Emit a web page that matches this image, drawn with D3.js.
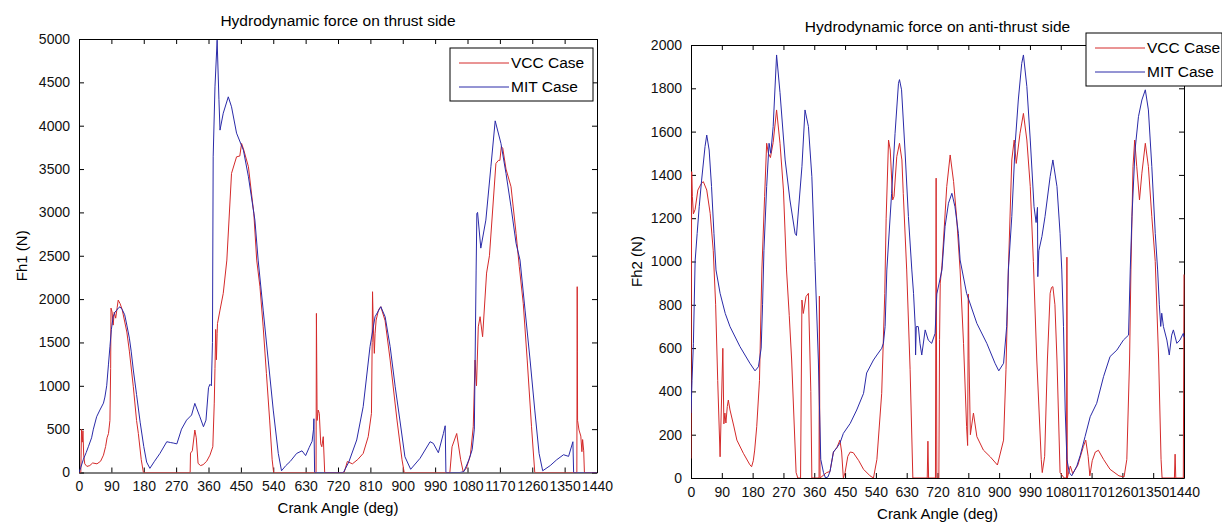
<!DOCTYPE html>
<html lang="en">
  <head>
    <meta charset="utf-8">
    <title>Hydrodynamic force</title>
    <script src="https://d3js.org/d3.v7.min.js"></script>
    <style>
      body { margin: 0; background: #fff; }
      text { font-family: "Liberation Sans", Arial, sans-serif; }
    </style>
  </head>
  <body>
    <script type="text/javascript">
    // crank angle ticks (both charts)
    var xTicks = [0, 90, 180, 270, 360, 450, 540, 630, 720, 810, 900, 990, 1080, 1170, 1260, 1350, 1440];
    var yTicksThrust = [0, 500, 1000, 1500, 2000, 2500, 3000, 3500, 4000, 4500, 5000];
    var yTicksAnti = [0, 200, 400, 600, 800, 1000, 1200, 1400, 1600, 1800, 2000];
    var seriesNames = ["VCC Case", "MIT Case"];

    // [crank angle, force]
    var vccThrust = [[0,0],[5,0],[7,500],[9,350],[11,480],[13,200],[16,100],[22,70],[30,80],[38,110],[50,100],[60,130],
      [68,200],[74,300],[78,400],[82,450],[86,600],[88,1200],[89,1896],[92,1850],[95,1700],[98,1850],[102,1780],[106,1900],
      [109,1988],[114,1950],[120,1880],[133,1620],[140,1400],[151,989],[160,600],[165,450],[173,150],[179,0],[309,0],
      [310,224],[315,250],[322,490],[326,400],[331,105],[338,80],[345,90],[355,130],[364,200],[372,297],[376,800],
      [378,1200],[380,1650],[382,1300],[384,1600],[385,1718],[392,1873],[401,2066],[411,2450],[424,3450],[438,3641],
      [447,3650],[452,3795],[458,3720],[471,3526],[486,2988],[494,2450],[503,2143],[512,1680],[521,1143],[530,605],
      [537,147],[541,0],[659,0],[660,1835],[662,600],[665,720],[668,682],[672,330],[675,297],[679,413],[683,0],[737,0],
      [746,127],[760,100],[775,150],[790,220],[804,413],[813,682],[815,1500],[816,2085],[818,1700],[821,1374],[823,1600],
      [826,1758],[833,1880],[839,1912],[851,1750],[865,1297],[884,605],[898,147],[904,0],[1031,0],[1037,297],[1050,450],
      [1061,147],[1068,10],[1077,50],[1088,200],[1096,528],[1101,1297],[1105,1000],[1110,1680],[1115,1797],[1122,1566],
      [1133,2300],[1141,2500],[1159,3565],[1166,3600],[1170,3600],[1174,3757],[1178,3740],[1187,3500],[1201,3296],
      [1215,2758],[1224,2373],[1235,1950],[1246,1297],[1258,528],[1267,0],[1384,0],[1385,2143],[1385.5,1400],[1386,600],
      [1390,490],[1395,420],[1398,240],[1400,380],[1403,250],[1405,0],[1440,0]];

    var mitThrust = [[0,0],[5,60],[12,150],[20,230],[26,297],[35,400],[40,500],[49,643],[58,720],[68,800],[72,870],
      [77,1000],[82,1250],[86,1450],[90,1650],[95,1796],[100,1850],[105,1873],[110,1900],[114,1911],[120,1880],[127,1820],
      [133,1700],[140,1550],[145,1400],[151,1182],[160,900],[170,580],[180,300],[188,120],[197,48],[210,130],[225,220],
      [244,355],[255,345],[262,340],[272,330],[285,500],[299,604],[313,663],[322,797],[336,643],[346,528],[353,604],
      [360,978],[364,1017],[368,1000],[371,1500],[373,3641],[378,4448],[384,4987],[389,4305],[392,3949],[401,4144],
      [415,4333],[424,4218],[438,3914],[457,3718],[471,3411],[489,2911],[498,2450],[512,1873],[526,1297],[540,720],
      [554,220],[563,20],[575,80],[587,127],[605,220],[620,250],[630,195],[640,290],[648,360],[652,500],[653,620],[655,0],
      [735,0],[750,120],[772,375],[790,759],[809,1451],[823,1797],[839,1912],[851,1797],[865,1451],[879,989],[892,605],
      [906,182],[922,37],[948,163],[976,355],[985,336],[999,228],[1013,450],[1018,539],[1020,0],[1059,0],[1070,10],
      [1084,147],[1093,263],[1099,500],[1104,2335],[1106,2988],[1108,3000],[1117,2588],[1131,2911],[1145,3526],
      [1157,4056],[1173,3795],[1187,3450],[1201,3065],[1215,2643],[1226,2450],[1240,1873],[1254,1297],[1267,720],
      [1279,220],[1289,20],[1310,80],[1328,147],[1347,205],[1361,186],[1373,355],[1375,0],[1440,0]];

    var vccAnti = [[0,90],[1,800],[2,1415],[4,1300],[7,1220],[12,1240],[20,1330],[30,1360],[36,1369],[46,1330],[56,1222],
      [65,1050],[72,800],[78,450],[85,98],[93,599],[96,250],[99,300],[102,254],[106,330],[109,360],[114,314],[125,240],
      [134,175],[153,114],[172,61],[177,52],[182,80],[186,129],[192,237],[200,450],[207,961],[215,1300],[221,1546],
      [226,1500],[232,1480],[240,1550],[250,1700],[260,1546],[270,1330],[279,961],[287,750],[294,545],[307,25],[312,0],
      [320,0],[324,822],[328,760],[336,838],[343,853],[350,400],[353,0],[374,0],[375,840],[376,300],[377,0],[396,25],
      [406,30],[416,120],[426,140],[435,175],[440,120],[445,0],[450,25],[458,100],[465,120],[474,117],[490,80],[504,40],
      [523,10],[533,0],[543,86],[557,391],[566,853],[570,1200],[577,1561],[582,1515],[589,1284],[593,1300],[601,1484],
      [609,1546],[616,1469],[620,1315],[630,961],[640,500],[648,0],[690,0],[692,170],[694,0],[714,0],[716,1385],[718,0],
      [724,0],[726,640],[728,900],[733,980],[747,1346],[757,1492],[767,1369],[776,1200],[786,961],[796,622],[805,237],
      [808,150],[810,850],[812,550],[816,200],[825,300],[835,191],[854,129],[874,98],[895,60],[913,175],[920,500],
      [927,961],[937,1469],[944,1561],[950,1453],[961,1592],[971,1684],[981,1561],[991,1346],[1000,1000],[1010,545],
      [1023,86],[1026,25],[1033,100],[1041,545],[1049,853],[1053,880],[1057,884],[1063,800],[1069,545],[1078,25],
      [1090,0],[1097,0],[1098,1020],[1099,0],[1108,55],[1115,20],[1130,60],[1146,145],[1153,175],[1160,100],[1165,10],
      [1172,80],[1181,120],[1190,128],[1205,86],[1224,40],[1250,10],[1265,5],[1273,86],[1281,545],[1285,961],[1291,1438],
      [1296,1561],[1302,1438],[1310,1284],[1317,1408],[1327,1546],[1336,1438],[1346,1207],[1356,1000],[1366,545],
      [1373,86],[1376,0],[1412,0],[1414,110],[1416,0],[1438,0],[1440,940]];

    var mitAnti = [[0,300],[3,450],[7,620],[12,1000],[18,1130],[24,1253],[31,1376],[41,1531],[46,1584],[53,1515],
      [60,1346],[67,1130],[73,961],[85,853],[100,760],[114,699],[143,607],[172,530],[187,495],[197,514],[205,600],
      [209,800],[213,1050],[221,1346],[228,1546],[233,1500],[240,1623],[250,1954],[260,1780],[275,1469],[289,1284],
      [304,1130],[308,1120],[324,1438],[333,1700],[343,1623],[353,1392],[362,1000],[372,545],[379,86],[387,25],[393,0],
      [400,5],[406,30],[416,120],[426,140],[435,161],[445,206],[465,252],[484,314],[504,391],[513,485],[533,545],
      [543,568],[557,599],[562,622],[567,700],[572,961],[586,1315],[596,1592],[606,1823],[609,1840],[615,1793],
      [625,1515],[635,1208],[645,961],[650,853],[655,699],[656,568],[658,700],[664,699],[669,620],[674,568],[684,684],
      [693,637],[703,622],[713,668],[718,850],[733,961],[742,1161],[752,1269],[762,1315],[771,1253],[781,1130],
      [786,1007],[805,853],[835,714],[864,622],[888,530],[899,495],[913,530],[922,699],[927,961],[937,1207],[947,1546],
      [956,1746],[966,1915],[971,1954],[981,1808],[991,1561],[1002,1253],[1008,1180],[1012,1250],[1013,930],[1016,1050],
      [1025,1115],[1034,1207],[1049,1392],[1057,1469],[1069,1346],[1078,1130],[1083,961],[1088,699],[1093,314],
      [1098,86],[1105,25],[1112,10],[1127,55],[1137,105],[1151,191],[1166,283],[1185,345],[1205,468],[1224,561],
      [1244,591],[1263,637],[1278,660],[1283,961],[1288,1207],[1297,1515],[1307,1669],[1317,1746],[1327,1793],
      [1336,1700],[1346,1438],[1356,1130],[1363,961],[1368,800],[1372,700],[1375,761],[1380,699],[1390,637],[1397,568],
      [1404,660],[1409,684],[1419,622],[1428,637],[1438,668],[1440,650]];

    var colors = ["#d42a2a", "#2a2aa8"];

    var svg = d3.select("body").append("svg")
      .attr("width", 1222)
      .attr("height", 525);

    function drawChart(opt) {
      var xScale = d3.scaleLinear().domain([0, 1440]).range([opt.left, opt.right]);
      var yScale = d3.scaleLinear().domain([0, opt.yMax]).range([opt.bottom, opt.top]);

      var g = svg.append("g");

      // ticks point inward like matlab
      var axes = [
        {ax: d3.axisBottom(xScale).tickValues(xTicks), t: "translate(0," + opt.bottom + ")", labels: true},
        {ax: d3.axisTop(xScale).tickValues(xTicks), t: "translate(0," + opt.top + ")", labels: false},
        {ax: d3.axisLeft(yScale).tickValues(opt.yTicks), t: "translate(" + opt.left + ",0)", labels: true},
        {ax: d3.axisRight(yScale).tickValues(opt.yTicks), t: "translate(" + opt.right + ",0)", labels: false}
      ];
      axes.forEach(function(a) {
        a.ax.tickSizeInner(-5).tickSizeOuter(0).tickPadding(a.labels ? 9 : 0).tickFormat(a.labels ? d3.format("d") : "");
        var ag = g.append("g").attr("transform", a.t).call(a.ax);
        ag.select(".domain").attr("stroke", "#000");
        ag.selectAll(".tick line").attr("stroke", "#000");
        ag.selectAll("text").attr("font-size", "14px").attr("fill", "#111");
      });

      g.append("defs").append("clipPath").attr("id", opt.id)
        .append("rect")
        .attr("x", opt.left).attr("y", opt.top - 2)
        .attr("width", opt.right - opt.left + 2).attr("height", opt.bottom - opt.top + 2);

      var line = d3.line()
        .x(function(d) { return xScale(d[0]); })
        .y(function(d) { return yScale(d[1]); });

      opt.series.forEach(function(s, i) {
        g.append("path")
          .datum(s)
          .attr("clip-path", "url(#" + opt.id + ")")
          .attr("fill", "none")
          .attr("stroke", colors[i])
          .attr("stroke-width", 1)
          .attr("d", line);
      });

      g.append("text")
        .attr("x", (opt.left + opt.right) / 2)
        .attr("y", opt.titleY)
        .attr("text-anchor", "middle")
        .attr("font-size", "15.5px")
        .text(opt.title);

      g.append("text")
        .attr("x", (opt.left + opt.right) / 2)
        .attr("y", opt.xLabelY)
        .attr("text-anchor", "middle")
        .attr("font-size", "15px")
        .text("Crank Angle (deg)");

      g.append("text")
        .attr("transform", "translate(" + opt.yLabelX + "," + ((opt.top + opt.bottom) / 2) + ") rotate(-90)")
        .attr("text-anchor", "middle")
        .attr("font-size", "15px")
        .text(opt.yLabel);

      // legend
      var lg = g.append("g").attr("transform", "translate(" + opt.legend[0] + "," + opt.legend[1] + ")");
      lg.append("rect")
        .attr("width", opt.legend[2]).attr("height", 53)
        .attr("fill", "#fff").attr("stroke", "#000");
      seriesNames.forEach(function(name, i) {
        var yy = 15 + i * 24;
        lg.append("line")
          .attr("x1", 9).attr("x2", 59).attr("y1", yy).attr("y2", yy)
          .attr("stroke", colors[i]);
        lg.append("text")
          .attr("x", 61).attr("y", yy + 5)
          .attr("font-size", "15.5px")
          .text(name);
      });
    }

    drawChart({
      id: "clipL", left: 79, right: 597, top: 39, bottom: 472.5,
      yMax: 5000, yTicks: yTicksThrust,
      series: [vccThrust, mitThrust],
      title: "Hydrodynamic force on thrust side", titleY: 26,
      xLabelY: 513, yLabel: "Fh1 (N)", yLabelX: 27,
      legend: [450, 48, 143]
    });

    drawChart({
      id: "clipR", left: 691, right: 1184, top: 45, bottom: 478,
      yMax: 2000, yTicks: yTicksAnti,
      series: [vccAnti, mitAnti],
      title: "Hydrodynamic force on anti-thrust side", titleY: 32,
      xLabelY: 519, yLabel: "Fh2 (N)", yLabelX: 642,
      legend: [1086, 33, 136]
    });
    </script>
  </body>
</html>
